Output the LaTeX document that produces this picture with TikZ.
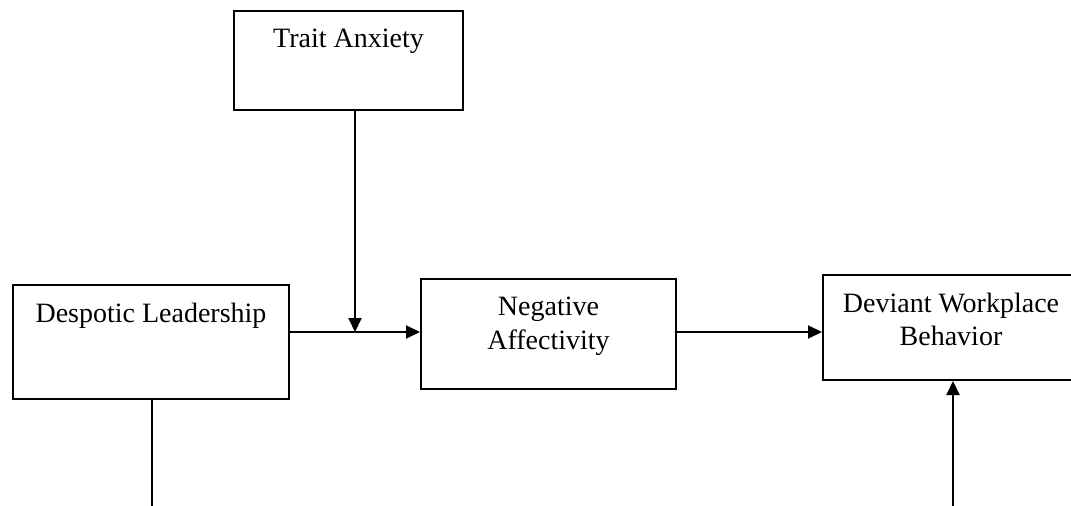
\documentclass[tikz,border=0pt]{standalone}
\usepackage{fontspec}
\setmainfont{Liberation Serif}
\usetikzlibrary{arrows.meta}
\begin{document}
\begin{tikzpicture}[x=1pt,y=-1pt,
  box/.style={draw=black,line width=2pt,inner sep=0pt,rectangle},
  lbl/.style={anchor=base,inner sep=0pt,font=\fontsize{28}{34}\selectfont},
  conn/.style={draw=black,line width=2pt},
  arr/.style={conn,-{Triangle[length=14pt,width=13pt]}}]
\useasboundingbox (0,0) rectangle (1071,506);
\clip (0,0) rectangle (1071,506);
% boxes
\node[box,minimum width=229pt,minimum height=99pt] (trait) at (348.5,60.5) {};
\node[box,minimum width=276pt,minimum height=114pt] (desp) at (151,342) {};
\node[box,minimum width=255pt,minimum height=110pt] (neg) at (548.5,334) {};
\node[box,minimum width=256pt,minimum height=105pt] (dev) at (951,327.5) {};
% texts
\node[lbl] (traitT) at (348.5,47) {Trait Anxiety};
\node[lbl] (despT) at (151,322) {Despotic Leadership};
\node[lbl] (negT1) at (548.5,315) {Negative};
\node[lbl] (negT2) at (548.5,349) {Affectivity};
\node[lbl] (devT1) at (951,312) {Deviant Workplace};
\node[lbl] (devT2) at (951,345) {Behavior};
% coordinates
\coordinate (junc) at (355,332);
\coordinate (right) at (700,332);
\coordinate (despEnd) at (152,506);
\coordinate (devStart) at (953,506);
% connectors
\draw[arr] (junc |- trait.south) -- (junc);
\draw[arr] (desp.east |- junc) -- (neg.west |- junc);
\draw[arr] (neg.east |- right) -- (dev.west |- right);
\draw[conn] (despEnd |- desp.south) -- (despEnd);
\draw[arr] (devStart) -- (devStart |- dev.south);
\end{tikzpicture}
\end{document}
